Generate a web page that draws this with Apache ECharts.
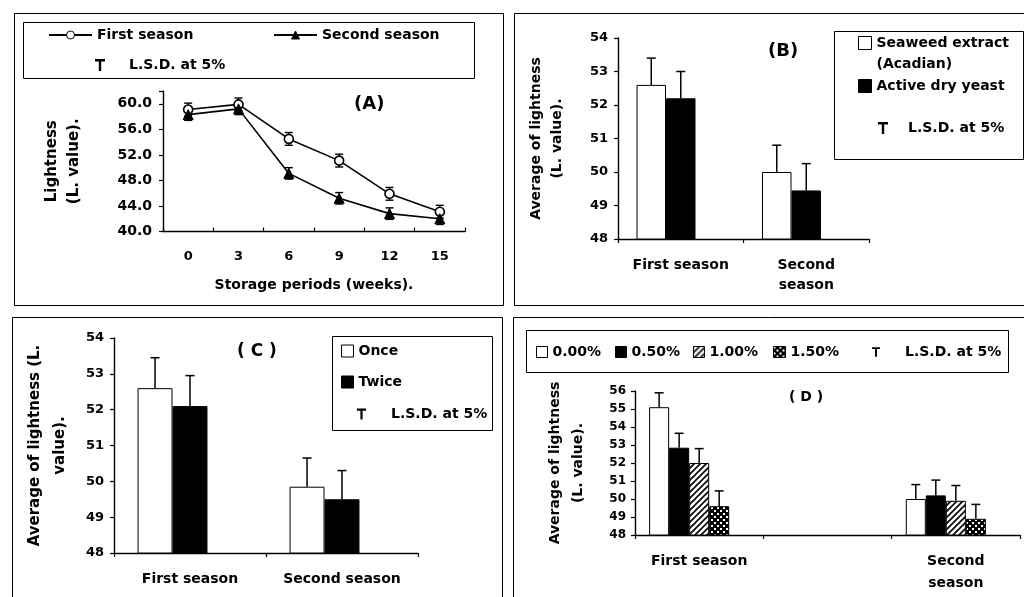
<!DOCTYPE html>
<html><head><meta charset="utf-8">
<script src="https://cdn.jsdelivr.net/npm/echarts@6/dist/echarts.min.js"></script>
<style>html,body{margin:0;padding:0;background:#fff}#c{width:1024px;height:597px}</style>
</head><body><div id="c"></div>
<script>
// ---------- Panel A : storage periods ----------
const weeksA = ['0', '3', '6', '9', '12', '15'];
const firstSeasonA = [59.1, 59.9, 54.5, 51.1, 45.9, 43.1];
const secondSeasonA = [58.3, 59.2, 49.1, 45.2, 42.8, 42.0];
const lsdFirstA = [1.0, 1.0, 1.0, 1.0, 1.0, 1.0];
const lsdSecondA = [0.9, 0.9, 0.9, 0.9, 0.9, 0.9];
const yTicksA = [40, 44, 48, 52, 56, 60];

// ---------- Panel B : seaweed vs yeast ----------
const seasonsB = ['First season', 'Second\nseason'];
const seaweedB = [52.6, 50.0];
const yeastB = [52.2, 49.45];
const lsdSeaweedB = [0.8, 0.8];
const lsdYeastB = [0.8, 0.8];

// ---------- Panel C : once vs twice ----------
const seasonsC = ['First season', 'Second season'];
const onceC = [52.6, 49.85];
const twiceC = [52.1, 49.5];
const lsdOnceC = [0.85, 0.8];
const lsdTwiceC = [0.85, 0.8];

// ---------- Panel D : concentrations ----------
const seasonsD = ['First season', '', 'Second\nseason'];
const conc000D = [55.1, null, 50.0];
const conc050D = [52.85, null, 50.2];
const conc100D = [52.0, null, 49.9];
const conc150D = [49.6, null, 48.9];
const lsd000D = [0.8, null, 0.8];
const lsd050D = [0.8, null, 0.85];
const lsd100D = [0.8, null, 0.85];
const lsd150D = [0.85, null, 0.8];

const F = 'DejaVu Sans';
const LSD = 'L.S.D. at 5%';
const tIcon = 'path://M0,0H10V2.4H6.2V12H3.8V2.4H0Z';

function pattern(kind) {
  const c = document.createElement('canvas');
  c.width = c.height = 6;
  const g = c.getContext('2d');
  if (kind === 'hatch') {
    g.fillStyle = '#fff'; g.fillRect(0, 0, 6, 6);
    g.strokeStyle = '#000'; g.lineWidth = 1.6;
    g.beginPath();
    g.moveTo(0, 6); g.lineTo(6, 0);
    g.moveTo(-1, 1); g.lineTo(1, -1);
    g.moveTo(5, 7); g.lineTo(7, 5);
    g.stroke();
  } else {
    g.fillStyle = '#000'; g.fillRect(0, 0, 6, 6);
    g.fillStyle = '#fff';
    g.fillRect(0, 0, 2, 2); g.fillRect(3, 3, 2, 2);
  }
  return { image: c, repeat: 'repeat' };
}

function errData(valueArrays, lsdArrays) {
  const out = [];
  valueArrays.forEach((vals, s) => vals.forEach((v, i) => {
    if (v != null) out.push([i, v, lsdArrays[s][i], s]);
  }));
  return out;
}

function barErr(frac, nSlots) {
  return function (params, api) {
    const cat = api.value(0), v = api.value(1), e = api.value(2), slot = api.value(3);
    const band = api.size([1, 0])[0];
    const bw = band * frac;
    const p0 = api.coord([cat, v]);
    const p1 = api.coord([cat, v + e]);
    const x = p0[0] + (slot - (nSlots - 1) / 2) * bw;
    const cap = 4.5;
    const st = { stroke: '#000', lineWidth: 1.5 };
    return { type: 'group', children: [
      { type: 'line', shape: { x1: x, y1: p0[1], x2: x, y2: p1[1] }, style: st },
      { type: 'line', shape: { x1: x - cap, y1: p1[1], x2: x + cap, y2: p1[1] }, style: st }
    ] };
  };
}

function lineErr(params, api) {
  const cat = api.value(0), v = api.value(1), e = api.value(2);
  const p = api.coord([cat, v + e]), q = api.coord([cat, v - e]);
  const cap = 4;
  const st = { stroke: '#000', lineWidth: 1.4 };
  return { type: 'group', children: [
    { type: 'line', shape: { x1: p[0], y1: p[1], x2: q[0], y2: q[1] }, style: st },
    { type: 'line', shape: { x1: p[0] - cap, y1: p[1], x2: p[0] + cap, y2: p[1] }, style: st },
    { type: 'line', shape: { x1: q[0] - cap, y1: q[1], x2: q[0] + cap, y2: q[1] }, style: st }
  ] };
}

function bar(name, data, idx, color, bw) {
  return { type: 'bar', name, data, xAxisIndex: idx, yAxisIndex: idx, barWidth: bw, barGap: '0%',
    itemStyle: { color, borderColor: '#000', borderWidth: 1 }, z: 2, silent: true };
}
function pad(n, idx, bw) {
  return { type: 'bar', name: 'pad' + idx, data: new Array(n).fill(null), xAxisIndex: idx, yAxisIndex: idx,
    barWidth: bw, barGap: '0%', silent: true };
}

const axisLine = { show: true, lineStyle: { color: '#000', width: 1.4 } };
const tick = { show: true, length: 4, lineStyle: { color: '#000', width: 1.2 } };
const lab = (size) => ({ color: '#000', fontFamily: F, fontWeight: 'bold', fontSize: size });

function catAxis(idx, data, opt) {
  return Object.assign({ type: 'category', gridIndex: idx, data, boundaryGap: true,
    axisLine, axisTick: Object.assign({}, tick, { alignWithLabel: false }),
    axisLabel: Object.assign(lab(14), { margin: 16, lineHeight: 20, interval: 0 }) }, opt || {});
}
function valAxis(idx, min, max, interval, name, gap, lh, size, opt) {
  return Object.assign({ type: 'value', gridIndex: idx, min, max, interval,
    axisLine, axisTick: tick, splitLine: { show: false },
    axisLabel: Object.assign(lab(13), { margin: 10 }),
    name, nameLocation: 'middle', nameRotate: 90, nameGap: gap,
    nameTextStyle: Object.assign(lab(size), { lineHeight: lh }) }, opt || {});
}

function legendItem(name, left, top, opt) {
  return Object.assign({ left, top, padding: 0, orient: 'horizontal', selectedMode: false,
    itemWidth: 12, itemHeight: 12, data: [{ name, icon: 'rect' }],
    itemStyle: { borderColor: '#000', borderWidth: 1 },
    textStyle: { color: '#000', fontFamily: F, fontWeight: 'bold', fontSize: 14, lineHeight: 16 } }, opt || {});
}
function lsdLegend(left, top, w, padLeft) {
  return { left, top, padding: 0, selectedMode: false, itemWidth: w, itemHeight: 12,
    data: [{ name: LSD, icon: tIcon }], itemStyle: { borderWidth: 0 },
    textStyle: { color: '#000', fontFamily: F, fontWeight: 'bold', fontSize: 14, lineHeight: 16,
      padding: [0, 0, 0, padLeft] } };
}

const bwB = '23.5%', bwC = '23%', bwD = '15.6%';
const fracB = 0.235, fracC = 0.23, fracD = 0.156;

const box = (x, y, w, h) => ({ type: 'rect', shape: { x, y, width: w, height: h },
  style: { fill: null, stroke: '#000', lineWidth: 1 }, z: -1, silent: true });

const option = {
  animation: false,
  backgroundColor: '#fff',
  title: [
    { text: '(A)', left: 349, top: 90, textStyle: { fontFamily: F, fontWeight: 'bold', fontSize: 18, color: '#000' } },
    { text: '(B)', left: 763, top: 37, textStyle: { fontFamily: F, fontWeight: 'bold', fontSize: 18, color: '#000' } },
    { text: '( C )', left: 232, top: 338, textStyle: { fontFamily: F, fontWeight: 'bold', fontSize: 17, color: '#000' } },
    { text: '( D )', left: 784, top: 385, textStyle: { fontFamily: F, fontWeight: 'bold', fontSize: 14, color: '#000' } }
  ],
  graphic: [
    box(14.5, 13.5, 489, 292),
    box(514.5, 13.5, 520, 292),
    box(12.5, 317.5, 490, 290),
    box(513.5, 317.5, 520, 290),
    box(23.5, 22.5, 451, 56),
    box(834.5, 31.5, 189, 128),
    box(332.5, 336.5, 160, 94),
    box(526.5, 330.5, 482, 42)
  ],
  legend: [
    Object.assign(legendItem('First season', 48, 27, { itemWidth: 43, itemHeight: 10 }), { data: ['First season'] }),
    Object.assign(legendItem('Second season', 273, 27, { itemWidth: 43, itemHeight: 10 }), { data: ['Second season'] }),
    lsdLegend(95, 57, 10, 19),
    legendItem('Seaweed extract\n(Acadian)', 858, 11.5, { itemWidth: 13, itemHeight: 13,
      formatter: (n) => '\n' + n,
      textStyle: { color: '#000', fontFamily: F, fontWeight: 'bold', fontSize: 14, lineHeight: 21 } }),
    legendItem('Active dry yeast', 858, 78, { itemWidth: 13, itemHeight: 13 }),
    lsdLegend(878, 120, 10, 15),
    legendItem('Once', 341, 343),
    legendItem('Twice', 341, 374),
    lsdLegend(357, 406, 9, 20),
    legendItem('0.00%', 536, 344, { itemWidth: 11, itemHeight: 11 }),
    legendItem('0.50%', 615, 344, { itemWidth: 11, itemHeight: 11 }),
    legendItem('1.00%', 693, 344, { itemWidth: 11, itemHeight: 11 }),
    legendItem('1.50%', 773, 344, { itemWidth: 12, itemHeight: 11 }),
    lsdLegend(872, 344, 8, 20)
  ],
  grid: [
    { left: 163, top: 91, width: 302, height: 140.5 },
    { left: 618, top: 38, width: 251, height: 201 },
    { left: 114, top: 338, width: 304, height: 215 },
    { left: 635, top: 391, width: 385, height: 144 }
  ],
  xAxis: [
    catAxis(0, weeksA, { name: 'Storage periods (weeks).', nameLocation: 'middle', nameGap: 47,
      nameTextStyle: lab(14), axisTick: Object.assign({}, tick, { inside: true }),
      axisLabel: Object.assign(lab(13), { margin: 19, interval: 0 }) }),
    catAxis(1, seasonsB),
    catAxis(2, seasonsC),
    catAxis(3, seasonsD, { axisLabel: Object.assign(lab(14), { margin: 15, lineHeight: 22, interval: 0 }) })
  ],
  yAxis: [
    valAxis(0, 40, 62, 4, 'Lightness\n(L. value).', 78, 22, 15, {
      axisLabel: Object.assign(lab(14), { margin: 11,
        formatter: (v) => yTicksA.indexOf(v) >= 0 ? v.toFixed(1) : '' }) }),
    valAxis(1, 48, 54, 1, 'Average of lightness\n(L. value).', 50, 21, 14),
    valAxis(2, 48, 54, 1, 'Average of lightness (L.\nvalue).', 41, 25, 15),
    valAxis(3, 48, 56, 1, 'Average of lightness\n(L. value).', 45, 23, 14, {
      axisLabel: Object.assign(lab(12), { margin: 9 }) })
  ],
  series: [
    { type: 'line', name: 'First season', data: firstSeasonA, xAxisIndex: 0, yAxisIndex: 0,
      symbol: 'circle', symbolSize: 9, z: 4, silent: true,
      lineStyle: { color: '#000', width: 1.6 },
      itemStyle: { color: '#fff', borderColor: '#000', borderWidth: 1.6 } },
    { type: 'line', name: 'Second season', data: secondSeasonA, xAxisIndex: 0, yAxisIndex: 0,
      symbol: 'triangle', symbolSize: 10, z: 4, silent: true,
      lineStyle: { color: '#000', width: 1.6 },
      itemStyle: { color: '#000', borderColor: '#000', borderWidth: 1 } },
    { type: 'custom', name: LSD, xAxisIndex: 0, yAxisIndex: 0, z: 3, silent: true,
      itemStyle: { color: '#000' }, renderItem: lineErr,
      data: errData([firstSeasonA, secondSeasonA], [lsdFirstA, lsdSecondA]) },

    bar('Seaweed extract\n(Acadian)', seaweedB, 1, '#fff', bwB),
    bar('Active dry yeast', yeastB, 1, '#000', bwB),
    pad(2, 1, bwB),
    { type: 'custom', name: LSD, xAxisIndex: 1, yAxisIndex: 1, z: 5, silent: true,
      itemStyle: { color: '#000' }, renderItem: barErr(fracB, 3),
      data: errData([seaweedB, yeastB], [lsdSeaweedB, lsdYeastB]) },

    bar('Once', onceC, 2, '#fff', bwC),
    bar('Twice', twiceC, 2, '#000', bwC),
    pad(2, 2, bwC),
    { type: 'custom', name: LSD, xAxisIndex: 2, yAxisIndex: 2, z: 5, silent: true,
      itemStyle: { color: '#000' }, renderItem: barErr(fracC, 3),
      data: errData([onceC, twiceC], [lsdOnceC, lsdTwiceC]) },

    bar('0.00%', conc000D, 3, '#fff', bwD),
    bar('0.50%', conc050D, 3, '#000', bwD),
    bar('1.00%', conc100D, 3, pattern('hatch'), bwD),
    bar('1.50%', conc150D, 3, pattern('dots'), bwD),
    pad(3, 3, bwD),
    { type: 'custom', name: LSD, xAxisIndex: 3, yAxisIndex: 3, z: 5, silent: true,
      itemStyle: { color: '#000' }, renderItem: barErr(fracD, 5),
      data: errData([conc000D, conc050D, conc100D, conc150D], [lsd000D, lsd050D, lsd100D, lsd150D]) }
  ]
};

const chart = echarts.init(document.getElementById('c'), null, { renderer: 'canvas' });
chart.setOption(option);
</script>
</body></html>
